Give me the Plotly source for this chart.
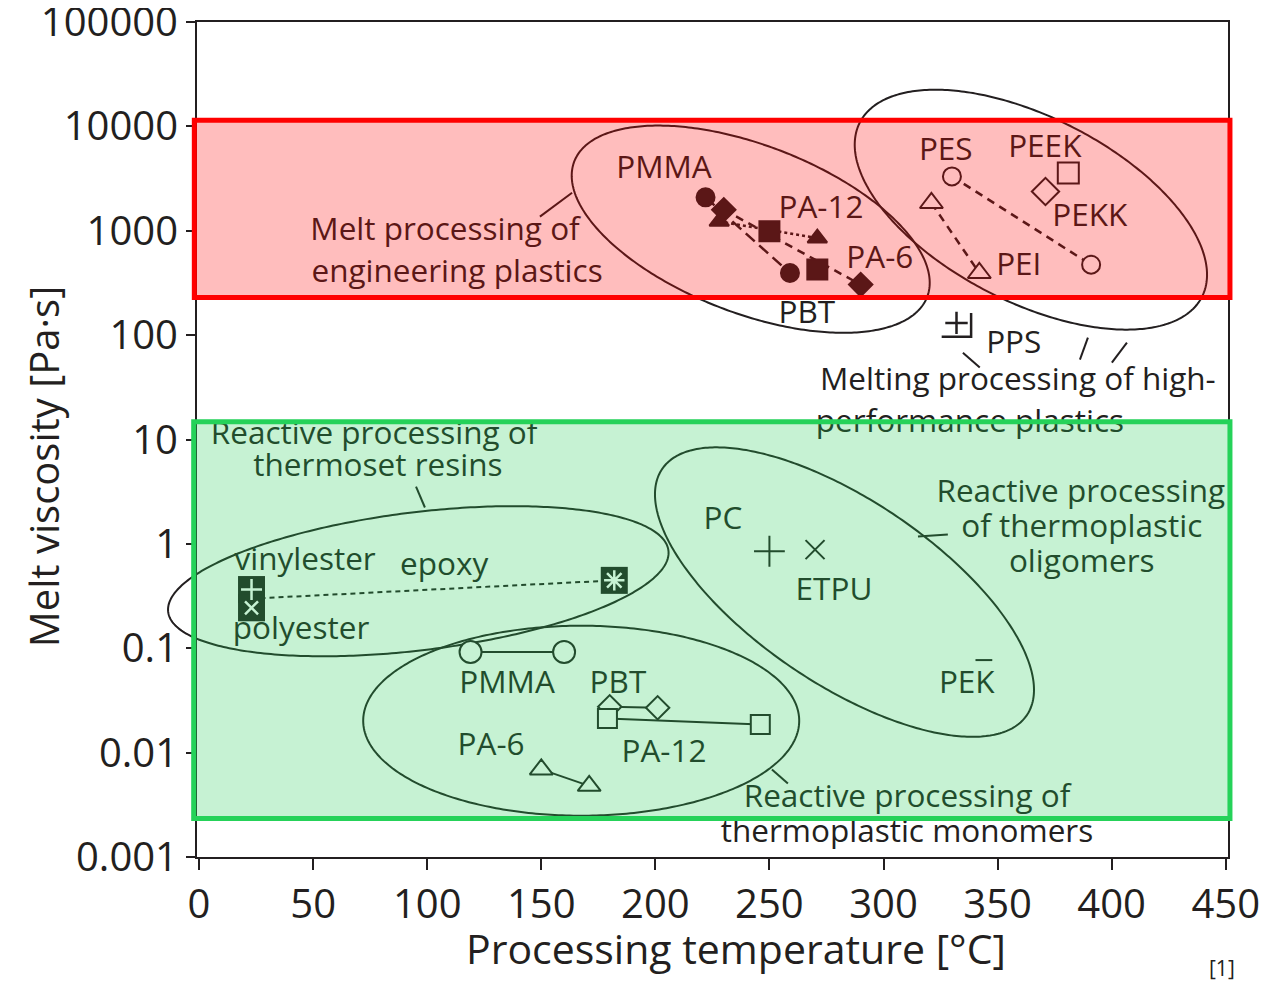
import numpy as np
import plotly.graph_objects as go

INK = '#231F20'
FONT = 'Open Sans'

# ---------------- axes ----------------
x_tickvals = [0, 50, 100, 150, 200, 250, 300, 350, 400, 450]
y_tickvals = [0.001, 0.01, 0.1, 1, 10, 100, 1000, 10000, 100000]
y_ticktext = ['0.001', '0.01', '0.1', '1', '10', '100', '1000', '10000', '100000']
X_RANGE = [-0.9, 451]
Y_RANGE_LOG = [-3.0004, 5.0004]

# ---------------- data: melt processing of engineering plastics (filled) ----------------
melt_pmma_T = [222, 259]
melt_pmma_eta = [2090, 394]
melt_pa12_T = [228, 271]
melt_pa12_eta = [1230, 850]
melt_pbt_T = [250, 271]
melt_pbt_eta = [990, 425]
melt_pa6_T = [230, 290]
melt_pa6_eta = [1590, 305]

# ---------------- high-performance plastics (open) ----------------
hp_pes_T = [330, 391]
hp_pes_eta = [3320, 473]
hp_pei_T = [321, 342]
hp_pei_eta = [1845, 394]
hp_peek_T = [381]
hp_peek_eta = [3580]
hp_pekk_T = [371]
hp_pekk_eta = [2380]
hp_pps_T = [332]
hp_pps_eta = [131]

# ---------------- thermoset resins ----------------
ts_names = ['vinylester', 'polyester', 'epoxy']
ts_T = [23, 23, 182]
ts_eta = [0.365, 0.244, 0.447]

# ---------------- thermoplastic oligomers ----------------
olig_names = ['PC', 'ETPU', 'PEK']
olig_T = [250, 270, 344]
olig_eta = [0.85, 0.88, 0.077]

# ---------------- thermoplastic monomers ----------------
mono_pmma_T = [119, 160]
mono_pmma_eta = [0.092, 0.092]
mono_pbt_T = [180, 201]
mono_pbt_eta = [0.0275, 0.0269]
mono_pa12_T = [179, 246]
mono_pa12_eta = [0.0212, 0.0186]
mono_pa6_T = [150, 171]
mono_pa6_eta = [0.0069, 0.0048]

# ---------------- labels (text, T, log10 eta) ----------------
label_text = ['Melt processing of', 'engineering plastics', 'PMMA', 'PA-12', 'PA-6', 'PBT',
              'PES', 'PEEK', 'PEKK', 'PEI', 'PPS', 'Melting processing of high-',
              'performance plastics',
              'Reactive processing of', 'thermoset resins', 'vinylester', 'epoxy', 'polyester',
              'PC', 'ETPU', 'PEK', 'Reactive processing', 'of thermoplastic', 'oligomers',
              'PMMA', 'PBT', 'PA-6', 'PA-12', 'Reactive processing of', 'thermoplastic monomers']
label_T = [107.8, 113.1, 203.8, 272.6, 298.4, 266.4,
           327.3, 370.7, 390.4, 359.3, 357.1, 358.9,
           337.9,
           76.7, 78.4, 46.5, 107.4, 44.7,
           229.6, 278.3, 336.5, 386.5, 386.9, 386.9,
           135.0, 183.6, 128.0, 203.8, 310.3, 310.3]
label_logeta = [2.991, 2.589, 3.585, 3.202, 2.723, 2.196,
                3.758, 3.786, 3.125, 2.656, 1.909, 1.545,
                1.143,
                1.037, 0.721, -0.179, -0.227, -0.840,
                0.214, -0.467, -1.358, 0.474, 0.139, -0.196,
                -1.358, -1.358, -1.952, -2.019, -2.450, -2.785]

# ---------------- region outlines (centre T, centre eta, semi-axes in px, tilt deg) ----------------
ellipses = [
    dict(cT=241.8, ceta=1035, a=189, b=84, ang=21),     # engineering plastics
    dict(cT=364.6, ceta=1592, a=192, b=92.5, ang=27),   # high performance
    dict(cT=96.1, ceta=0.4385, a=252, b=69, ang=-7),    # thermoset resins
    dict(cT=167.5, ceta=0.0202, a=218, b=95, ang=0),    # monomers
    dict(cT=282.9, ceta=0.345, a=220, b=92, ang=34),    # oligomers
]
leaders = [
    ((149.4, 1365), (163.5, 2317)),
    ((95.1, 3.54), (99.0, 2.23)),
    ((315.1, 1.175), (328.2, 1.23)),
    ((251.1, 0.00689), (258.1, 0.00506)),
    ((334.8, 67.9), (342.2, 48.9)),
    ((386.1, 58.3), (389.6, 94.6)),
    ((400.1, 54.6), (406.7, 84.7)),
]
pps_bracket_T = [325.5, 338.4, 338.4]
pps_bracket_eta = [96.6, 96.6, 163]

# ---------------- geometry (page has an 8px body margin) ----------------
W, H = 1268, 974
ML, MR, MT, MB = 189, 48, 14, 125
PLOT_W = W - ML - MR
PLOT_H = H - MT - MB
PX_PER_T = PLOT_W / (X_RANGE[1] - X_RANGE[0])
PX_PER_DEC = PLOT_H / (Y_RANGE_LOG[1] - Y_RANGE_LOG[0])


def ellipse_pts(cT, ceta, a, b, ang):
    t = np.linspace(0, 2 * np.pi, 361)
    th = np.radians(ang)
    dx = a * np.cos(th) * np.cos(t) - b * np.sin(th) * np.sin(t)
    dy = a * np.sin(th) * np.cos(t) + b * np.cos(th) * np.sin(t)
    return cT + dx / PX_PER_T, ceta * 10 ** (-dy / PX_PER_DEC)


fig = go.Figure()

# ellipses drawn as shape paths (x in paper units so they may leave the plot area sideways)
for e in ellipses:
    ex, ey = ellipse_pts(**e)
    xp = (ex - X_RANGE[0]) / (X_RANGE[1] - X_RANGE[0])
    path = 'M ' + ' L '.join(f'{a:.5f},{b:.6g}' for a, b in zip(xp, ey)) + ' Z'
    fig.add_shape(type='path', xref='paper', yref='y', path=path,
                  line=dict(color=INK, width=2), layer='below')

for (p0, p1) in leaders:
    fig.add_trace(go.Scatter(x=[p0[0], p1[0]], y=[p0[1], p1[1]], mode='lines',
                             line=dict(color=INK, width=2), hoverinfo='skip'))
fig.add_trace(go.Scatter(x=pps_bracket_T, y=pps_bracket_eta, mode='lines',
                         line=dict(color=INK, width=2.5), hoverinfo='skip'))


def series(T, eta, symbol, size, dash=None, fill=INK, lw=2.5, mlw=2):
    mode = 'lines+markers' if dash is not None else 'markers'
    fig.add_trace(go.Scatter(
        x=T, y=eta, mode=mode,
        line=dict(color=INK, width=lw, dash=dash) if dash is not None else None,
        marker=dict(symbol=symbol, size=size, color=fill, opacity=1,
                    line=dict(color=INK, width=mlw))))


# melt engineering (filled)
series(melt_pmma_T, melt_pmma_eta, 'circle', 18, dash='12px,6px')
series(melt_pa12_T, melt_pa12_eta, 'triangle-up', 17, dash='3px,3px')
series(melt_pa6_T, melt_pa6_eta, 'diamond', 18, dash='8px,6px')
series(melt_pbt_T, melt_pbt_eta, 'square', 20)

# high performance (open)
series(hp_pes_T, hp_pes_eta, 'circle', 18, dash='8px,6px', fill='white')
series(hp_pei_T, hp_pei_eta, 'triangle-up', 20, dash='8px,6px', fill='white')
series(hp_peek_T, hp_peek_eta, 'square', 21, fill='white')
series(hp_pekk_T, hp_pekk_eta, 'diamond', 21, fill='white')
fig.add_trace(go.Scatter(x=hp_pps_T, y=hp_pps_eta, mode='markers',
                         marker=dict(symbol='cross-thin', size=16, color=INK, opacity=1,
                                     line=dict(color=INK, width=2.5))))

# thermoset resins
fig.add_trace(go.Scatter(x=[ts_T[0], ts_T[2]],
                         y=[float(np.sqrt(ts_eta[0] * ts_eta[1])), ts_eta[2]],
                         mode='lines', line=dict(color=INK, width=2, dash='5px,4px'),
                         hoverinfo='skip'))
fig.add_trace(go.Scatter(x=ts_T, y=ts_eta, mode='markers',
                         marker=dict(symbol='square', size=27, color=INK, opacity=1,
                                     line=dict(width=0))))
fig.add_trace(go.Scatter(x=ts_T, y=ts_eta, mode='markers',
                         marker=dict(symbol=['cross-thin', 'x-thin', 'asterisk'],
                                     size=[15, 13, 17], color='white', opacity=1,
                                     line=dict(color='white', width=2.5))))

# oligomers
fig.add_trace(go.Scatter(x=olig_T, y=olig_eta, mode='markers',
                         marker=dict(symbol=['cross-thin', 'x-thin', 'line-ew'],
                                     size=[22, 19, 12], color=INK, opacity=1,
                                     line=dict(color=INK, width=2))))

# monomers (open, solid lines)
series(mono_pmma_T, mono_pmma_eta, 'circle', 22, dash='solid', fill='white', lw=2)
series(mono_pbt_T, mono_pbt_eta, 'diamond', 18, dash='solid', fill='white', lw=2)
series(mono_pa12_T, mono_pa12_eta, 'square', 19, dash='solid', fill='white', lw=2)
series(mono_pa6_T, mono_pa6_eta, 'triangle-up', 20, dash='solid', fill='white', lw=2)

# labels
fig.add_trace(go.Scatter(x=label_T, y=[10 ** v for v in label_logeta], mode='text',
                         text=label_text, textposition='middle center', cliponaxis=False,
                         textfont=dict(family=FONT, size=31.5, color=INK), hoverinfo='skip'))

# highlight boxes (semi-transparent, above everything in the plot)
fig.add_shape(type='rect', xref='paper', yref='y', x0=-0.0026, x1=1.0019, y0=229, y1=11430,
              line=dict(color='#FF0000', width=5), fillcolor='rgba(255,0,0,0.26)', layer='above')
fig.add_shape(type='rect', xref='paper', yref='y', x0=-0.0032, x1=1.0019, y0=0.00233, y1=14.8,
              line=dict(color='#25D259', width=5), fillcolor='rgba(35,205,85,0.26)', layer='above')

fig.update_layout(
    width=W, height=H,
    margin=dict(l=ML, r=MR, t=MT, b=MB, autoexpand=False),
    paper_bgcolor='white', plot_bgcolor='white',
    showlegend=False,
    font=dict(family=FONT, color=INK),
    xaxis=dict(range=X_RANGE, tickvals=x_tickvals, ticks='outside', ticklen=11, tickwidth=2,
               tickcolor=INK, showline=True, linewidth=2, linecolor=INK, mirror=True,
               showgrid=False, zeroline=False, automargin=False,
               tickfont=dict(size=40, color=INK, family=FONT)),
    yaxis=dict(type='log', range=Y_RANGE_LOG, tickvals=y_tickvals, ticktext=y_ticktext,
               ticks='outside', ticklen=9, tickwidth=2, tickcolor=INK, showline=True,
               linewidth=2, linecolor=INK, mirror=True, showgrid=False, zeroline=False,
               ticklabeloverflow='allow', automargin=False,
               tickfont=dict(size=40, color=INK, family=FONT)),
    annotations=[
        dict(text='Processing temperature [°C]', xref='paper', yref='paper', x=0.523, y=-0.109,
             showarrow=False, font=dict(size=41, family=FONT, color=INK),
             xanchor='center', yanchor='middle'),
        dict(text='Melt viscosity [Pa·s]', xref='paper', yref='paper', x=-0.1494, y=0.468,
             textangle=-90, showarrow=False, font=dict(size=40, family=FONT, color=INK),
             xanchor='center', yanchor='middle'),
        dict(text='[1]', xref='paper', yref='paper', x=0.994, y=-0.133, showarrow=False,
             font=dict(size=21, family=FONT, color=INK), xanchor='center', yanchor='middle'),
    ],
)

fig.write_html('out.html')
